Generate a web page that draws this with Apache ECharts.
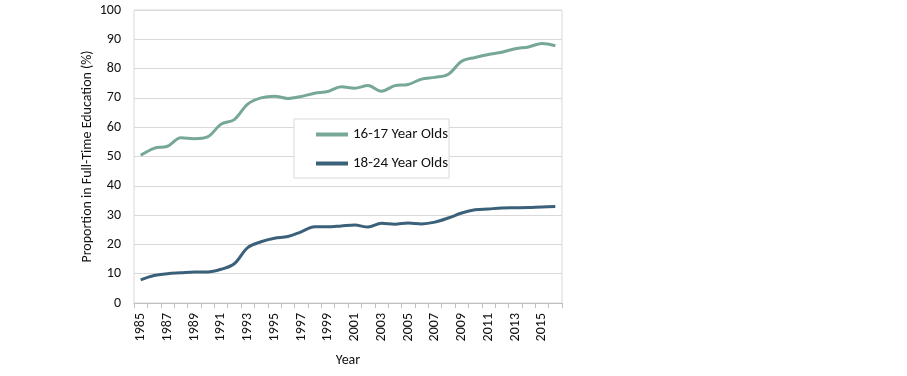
<!DOCTYPE html>
<html><head><meta charset="utf-8">
<script src="https://cdn.jsdelivr.net/npm/echarts@6/dist/echarts.min.js"></script>
<style>html,body{margin:0;padding:0;background:#fff}#c{width:907px;height:376px}</style>
</head><body><div id="c"></div>
<script>
const years = ['1985','1986','1987','1988','1989','1990','1991','1992','1993','1994','1995','1996','1997','1998','1999','2000','2001','2002','2003','2004','2005','2006','2007','2008','2009','2010','2011','2012','2013','2014','2015','2016'];
const age1617 = [50.4,52.8,53.5,56.4,56.1,56.7,61.0,62.6,67.9,70.0,70.6,69.8,70.5,71.6,72.2,73.8,73.3,74.2,72.3,74.2,74.6,76.4,77.0,78.1,82.5,83.8,84.8,85.6,86.8,87.4,88.6,87.8];
const age1824 = [7.9,9.4,10.0,10.3,10.6,10.6,11.5,13.4,18.9,20.9,22.1,22.7,24.3,26.0,26.0,26.3,26.6,25.9,27.2,26.9,27.3,27.0,27.6,29.0,30.7,31.8,32.1,32.4,32.5,32.6,32.8,32.9];
const yTicks = {min:0, max:100, interval:10};
const FONT = 'Carlito, Calibri, Lato, sans-serif';
const chart = echarts.init(document.getElementById('c'));
chart.setOption({
  animation:false,
  textStyle:{fontFamily:FONT},
  grid:{left:134,right:345,top:10,bottom:73,show:true,borderColor:'#d9d9d9',borderWidth:1},
  legend:{
    orient:'vertical', left:294, top:119,
    backgroundColor:'#fff', borderColor:'#d9d9d9', borderWidth:1,
    padding:[8,1,7,22], itemGap:14, itemWidth:32, itemHeight:4, itemTextGap:2, icon:'rect',
    textStyle:{fontFamily:FONT,fontSize:15,color:'#111'},
    data:['16-17 Year Olds','18-24 Year Olds']
  },
  xAxis:{
    type:'category', data:years, boundaryGap:true,
    name:'Year', nameLocation:'middle', nameGap:50,
    nameTextStyle:{fontFamily:FONT,fontSize:14,color:'#111'},
    axisLine:{lineStyle:{color:'#bfbfbf'}},
    axisTick:{show:true,interval:0,alignWithLabel:false,length:5,lineStyle:{color:'#bfbfbf'}},
    axisLabel:{rotate:90,interval:1,fontFamily:FONT,fontSize:14,color:'#111',margin:10}
  },
  yAxis:{
    type:'value', min:yTicks.min, max:yTicks.max, interval:yTicks.interval,
    name:'Proportion in Full-Time Education (%)', nameLocation:'middle', nameGap:40,
    nameTextStyle:{fontFamily:FONT,fontSize:14,color:'#111'},
    axisLine:{show:false}, axisTick:{show:false},
    axisLabel:{fontFamily:FONT,fontSize:14,color:'#111',margin:13},
    splitLine:{lineStyle:{color:'#d9d9d9'}}
  },
  series:[
    {name:'16-17 Year Olds',type:'line',data:age1617,smooth:0.35,showSymbol:false,
     lineStyle:{width:3,color:'#77a797'},itemStyle:{color:'#77a797'}},
    {name:'18-24 Year Olds',type:'line',data:age1824,smooth:0.35,showSymbol:false,
     lineStyle:{width:3,color:'#3b6079'},itemStyle:{color:'#3b6079'}}
  ]
});
</script></body></html>
